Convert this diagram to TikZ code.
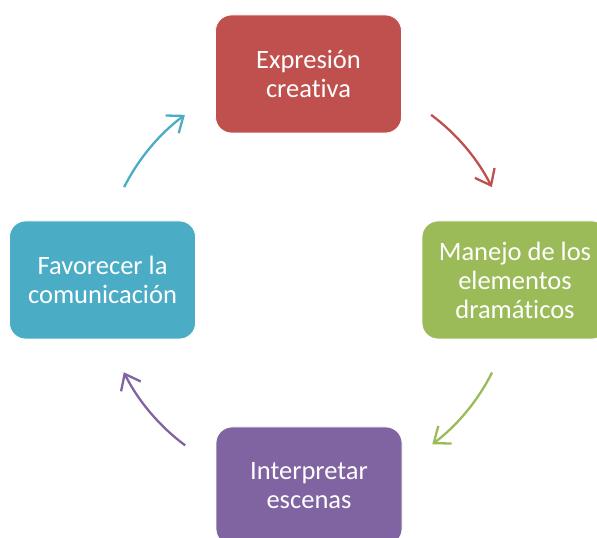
\documentclass[tikz,border=0pt]{standalone}
\usepackage{fontspec}
\setmainfont[Ligatures={NoCommon}]{Carlito}
\usetikzlibrary{arrows.meta,calc}
\definecolor{cred}{HTML}{C0504D}
\definecolor{cgreen}{HTML}{9BBB59}
\definecolor{cpurple}{HTML}{8064A2}
\definecolor{cteal}{HTML}{4BACC6}
\begin{document}
\begin{tikzpicture}[x=1pt,y=1pt,
  boxnode/.style={rounded corners=16pt, minimum width=186pt, minimum height=118pt,
    inner sep=0pt, text=white, align=center, font=\fontsize{26.5}{29}\selectfont, draw=white, line width=0.8pt},
  cyc/.style={line width=2.3pt, -{Straight Barb[length=14pt,width=22pt,line width=2.3pt]}}]
\useasboundingbox (0,0) rectangle (597,538);
\clip (0,0) rectangle (597,538);
\coordinate (c) at (308,258);
\node[boxnode, fill=cred] (top) at (308.5,464) {Expresión\\creativa};
\node[boxnode, fill=cgreen] (right) at (515,258) {Manejo de los\\elementos\\dramáticos};
\node[boxnode, fill=cpurple] (bottom) at (309,52) {Interpretar\\escenas};
\node[boxnode, fill=cteal] (left) at (102.5,258) {Favorecer la\\comunicación};
\coordinate (a1) at ($(c)+(53.3:206)$);
\coordinate (a2) at ($(c)+(-26.7:206)$);
\coordinate (a3) at ($(c)+(-126.6:206)$);
\coordinate (a4) at ($(c)+(153.2:206)$);
\draw[cyc, draw=cred] (a1) arc[start angle=53.3, end angle=26.8, radius=206];
\draw[cyc, draw=cgreen] (a2) arc[start angle=-26.7, end angle=-52.9, radius=206];
\draw[cyc, draw=cpurple] (a3) arc[start angle=-126.6, end angle=-153.4, radius=206];
\draw[cyc, draw=cteal] (a4) arc[start angle=153.2, end angle=126.7, radius=206];
\end{tikzpicture}
\end{document}
